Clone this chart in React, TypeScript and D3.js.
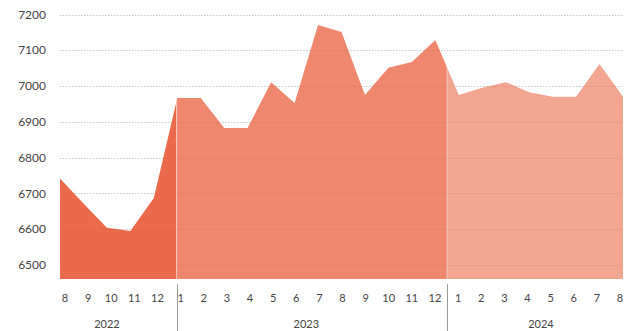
import React from "react";
import * as d3 from "d3";

const months = ["8","9","10","11","12","1","2","3","4","5","6","7","8","9","10","11","12","1","2","3","4","5","6","7","8"];
const years = ["2022","2023","2024"];
const yearOfMonth = [0,0,0,0,0,1,1,1,1,1,1,1,1,1,1,1,1,2,2,2,2,2,2,2,2];
const values = [6742,6672,6604,6595,6687,6967,6967,6883,6883,7011,6953,7171,7151,6975,7051,7067,7129,6975,6995,7011,6983,6970,6970,7062,6970];
const yTicks = [6500,6600,6700,6800,6900,7000,7100,7200];
const segmentBreaks = [4.97, 16.5];
const segmentColors = ["#EC6A4C", "#EF876E", "#F2A591"];

const W = 635, H = 331;

export default function App() {
  const x = d3.scaleLinear().domain([0, values.length - 1]).range([60, 623]);
  const xLabel = d3.scaleLinear().domain([0, values.length - 1]).range([65, 620]);
  const y = d3.scaleLinear().domain([6500, 7200]).range([265, 14.5]);
  const baseVal = 6461;
  const area = d3.area<number>()
    .x((_, i) => x(i))
    .y0(y(baseVal))
    .y1((d) => y(d))
    .curve(d3.curveLinear);
  const path = area(values) || "";
  const bounds = [0, ...segmentBreaks, values.length - 1];
  const font = "Lato, 'Open Sans', sans-serif";

  return (
    <svg width={W} height={H} style={{ position: "absolute", left: 0, top: 0, display: "block", background: "#fff" }}>
      <defs>
        {segmentColors.map((_, k) => (
          <clipPath id={`seg${k}`} key={k}>
            <rect x={x(bounds[k])} y={0} width={x(bounds[k + 1]) - x(bounds[k])} height={H} />
          </clipPath>
        ))}
        <clipPath id="areaClip">
          <path d={path} />
        </clipPath>
      </defs>
      {yTicks.map((t) => (
        <line key={"g" + t} x1={60} x2={623} y1={Math.round(y(t)) + 0.5} y2={Math.round(y(t)) + 0.5} stroke="#c8c8c8" strokeDasharray="1.5,1.5" strokeWidth={1} />
      ))}
      {segmentColors.map((c, k) => (
        <path key={k} d={path} fill={c} clipPath={`url(#seg${k})`} />
      ))}
      <g clipPath="url(#areaClip)">
        {yTicks.map((t) => (
          <line key={"go" + t} x1={60} x2={623} y1={Math.round(y(t)) + 0.5} y2={Math.round(y(t)) + 0.5} stroke="#a0503c" strokeOpacity={0.1} strokeWidth={1} />
        ))}
        {segmentBreaks.map((b, k) => (
          <line key={"b" + k} x1={x(b)} x2={x(b)} y1={0} y2={H} stroke="#fff" strokeOpacity={0.45} strokeWidth={1} />
        ))}
      </g>
      {yTicks.map((t) => (
        <text key={"yl" + t} x={46} y={y(t)} dy="0.35em" textAnchor="end" fontFamily={font} fontSize={12} fill="#444">{t}</text>
      ))}
      {months.map((m, i) => (
        <text key={"m" + i} x={xLabel(i)} y={298} dy="0.35em" textAnchor="middle" fontFamily={font} fontSize={11} fill="#444">{m}</text>
      ))}
      {segmentBreaks.map((b, k) => (
        <line key={"s" + k} x1={Math.round(x(b)) + 0.5} x2={Math.round(x(b)) + 0.5} y1={284} y2={H} stroke="#9a9a9a" strokeWidth={1} />
      ))}
      {years.map((yr, k) => {
        const idx = yearOfMonth.map((v, i) => (v === k ? i : -1)).filter((i) => i >= 0);
        const cx = (x(idx[0]) + x(idx[idx.length - 1])) / 2;
        return (
          <text key={yr} x={cx} y={324} dy="0.35em" textAnchor="middle" fontFamily={font} fontSize={11} fill="#444">{yr}</text>
        );
      })}
    </svg>
  );
}
